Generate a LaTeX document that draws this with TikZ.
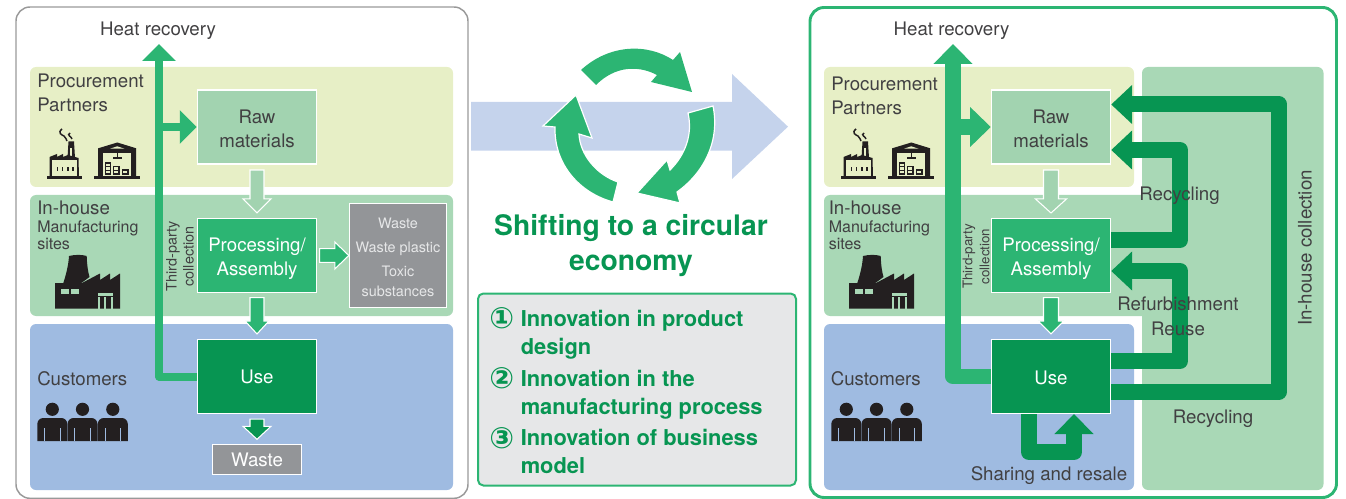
\documentclass[tikz,border=0pt]{standalone}
\usepackage{fontspec}
\setmainfont{TeX Gyre Heros}
\newfontfamily\symfont{DejaVu Sans}
\usetikzlibrary{calc,arrows.meta}
\definecolor{ink}{HTML}{414042}
\definecolor{iconink}{HTML}{231F20}
\definecolor{lime}{HTML}{E7EFC6}
\definecolor{mint}{HTML}{A9D8B6}
\definecolor{sky}{HTML}{9FBBE1}
\definecolor{rawfill}{HTML}{A2D3B0}
\definecolor{midgreen}{HTML}{2CB573}
\definecolor{darkgreen}{HTML}{079552}
\definecolor{wastegray}{HTML}{939598}
\definecolor{pale}{HTML}{E6E7E8}
\definecolor{bigblue}{HTML}{C5D3EC}
\tikzset{
 lab/.style={font=\fontsize{14}{18}\selectfont,text=ink,inner sep=0pt,align=left},
 smalllab/.style={font=\fontsize{12}{12.75}\selectfont,text=ink,inner sep=0pt,align=left},
 tp/.style={font=\fontsize{#1}{12.75}\selectfont,text=ink,inner sep=0pt,align=center,rotate=90},
 stage/.style={minimum width=89.5pt,minimum height=55.5pt,inner sep=0pt,draw=white,line width=.8pt,
   font=\fontsize{14}{18}\selectfont,align=center},
 band/.style={rounded corners=4.5pt},
 thinflow/.style={midgreen,line width=6pt,line join=round},
 thinhead/.style={-{Triangle[length=12.75pt,width=24.5pt]}},
 fatflow/.style={darkgreen,line width=12pt,line join=round},
 fathead/.style={-{Triangle[length=15.75pt,width=28.5pt]}},
 blockarrow/.style={draw=white,line width=.8pt,line join=miter},
 circ/.style={midgreen,draw=white,line width=.9pt,line join=miter},
 greentext/.style={font=\fontsize{16.4}{21}\selectfont\bfseries,text=darkgreen,inner sep=0pt,align=left},
 numeral/.style={font=\fontsize{22}{22}\symfont\bfseries,text=darkgreen,inner sep=0pt},
 pics/smallfactory/.style={code={
   \draw[iconink,line width=1.1pt] (62,129) .. controls (57,133) and (62,135) .. (64,136) .. controls (67,138) and (65,139) .. (67,141);
   \draw[iconink,line width=1.1pt] (70,133) .. controls (66,135) and (72,137) .. (72,139) ;
   \fill[iconink] (68.5,141.5) -- (74,141.5) -- (75,158) -- (67.5,158) -- cycle;
   \fill[lime] (70.2,148) rectangle (72.4,156);
   \fill[iconink] (49.5,157) -- (57,154) -- (57,157) -- (63,154) -- (63,157) -- (68,155) -- (78.5,158) -- (79,177) -- (49.5,177) -- cycle;
   \fill[lime] (52,160.5) rectangle (76.5,176.5);
   \fill[iconink] (46.7,176.5) rectangle (81.7,179.5);
   \foreach \q in {56.5,61.5,67,72}{\fill[iconink] (\q,167) rectangle ++(1.8,4);}
 }},
 pics/warehouse/.style={code={
   \fill[iconink] (117.3,142.5) -- (136.2,148.3) -- (136.2,177) -- (98.2,177) -- (98.2,148.3) -- cycle;
   \fill[lime] (103.2,153.2) rectangle (131.4,177);
   \fill[lime] (110,148.7) -- (117.3,146.3) -- (124.6,148.7) -- cycle;
   \fill[iconink] (94,176.5) rectangle (140.2,179.5);
   \draw[iconink,line width=1pt] (117.3,149) -- (117.3,157) (113,158) -- (122,158);
   \draw[iconink,line width=1.1pt] (105.5,163) rectangle (110.5,174);
   \draw[iconink,line width=.7pt] (105.5,166.6) -- (110.5,166.6) (105.5,170.3) -- (110.5,170.3);
   \draw[iconink,line width=1.1pt] (113.7,166.5) rectangle (119.2,174);
   \draw[iconink,line width=.7pt] (113.7,170.2) -- (119.2,170.2);
   \draw[iconink,line width=1.1pt] (122.3,170) rectangle (127.8,174);
 }},
 pics/plant/.style={code={
   \fill[iconink] (55,284) -- (63,284) .. controls (66,275) and (68.5,265) .. (69,256) .. controls (75,254.5) and (82,254.5) .. (86.7,256) .. controls (87,265) and (88,272) .. (89.5,277) -- (80,284) -- cycle;
   \fill[iconink] (55,283) -- (82,283) -- (100,273.5) -- (100,280) -- (110,273.5) -- (110,280) -- (120,273.5) -- (120,308.5) -- (55,308.5) -- cycle;
   \fill[mint] (61,289) rectangle (69.3,294);
   \fill[mint] (71,289) rectangle (79.3,294);
   \fill[mint] (97.5,292.5) rectangle (112.5,295.5);
   \fill[mint] (98,297) rectangle (99.5,308.5);
   \fill[mint] (103.7,297) rectangle (105.5,308.5);
   \fill[mint] (111.3,297) rectangle (112.5,308.5);
 }},
 pics/people/.style={code={
   \foreach \c in {52.3,82.5,112.8}{
     \fill[iconink] (\c,409.3) circle [radius=6.6];
     \fill[iconink] (\c-15,441) -- (\c-15,424) arc[start angle=180,end angle=90,x radius=6,y radius=-6] -- (\c+9,418) arc[start angle=90,end angle=0,x radius=6,y radius=-6] -- (\c+15,441) -- cycle;
     \draw[sky,line width=.7pt] (\c-7.7,428) -- (\c-7.7,441) (\c+7.7,428) -- (\c+7.7,441);
   }
 }},
}
\newcommand\downblock[6]{%
  \draw[blockarrow,fill=#6] ($(#1)+(-#3,0)$) -- ($(#2)+(-#3,-#5)$) -- ($(#2)+(-#4,-#5)$) -- (#2) -- ($(#2)+(#4,-#5)$) -- ($(#2)+(#3,-#5)$) -- ($(#1)+(#3,0)$) -- cycle;}
\begin{document}
\begin{tikzpicture}[x=.75pt,y=-.75pt]
\useasboundingbox (0,0) rectangle (1346,499);
% ---------- left panel ----------
\draw[draw=black!40,line width=1.1pt,rounded corners=10.5pt] (16,7) rectangle (468,498.3);
\fill[lime,band] (30,67) rectangle (453,187);
\fill[mint,band] (30,195) rectangle (453,316);
\fill[sky,band] (30,324) rectangle (453,490);
\node[lab,anchor=north west] (lproc) at (37,74) {Procurement\\Partners};
\node[lab,anchor=west] (lin) at (37,208) {In-house};
\node[smalllab,anchor=north west] (lman) at (37,221) {Manufacturing\\sites};
\node[lab,anchor=west] (lcus) at (37,379) {Customers};
\node[lab,anchor=center] (lheat) at (158,31) {Heat recovery};
\pic at (0,0) {smallfactory};
\pic at (0,0) {warehouse};
\pic at (0,0) {plant};
\pic at (0,0) {people};
\node[stage,fill=rawfill,text=ink] (lraw) at (257,127) {\rule{0pt}{13.2pt}Raw\\materials};
\node[stage,fill=midgreen,text=white] (lpa) at (257,255.5) {\rule{0pt}{14.8pt}Processing/\\Assembly};
\node[stage,fill=darkgreen,text=white] (luse) at (257,376.5) {Use};
\node[draw=white,line width=.8pt,fill=wastegray,text=white,minimum width=67pt,minimum height=22pt,inner sep=0pt,font=\fontsize{14}{18}\selectfont] (lwaste) at (257,459.5) {Waste};
\node[draw=white,line width=.8pt,fill=wastegray,text=pale,minimum width=73pt,minimum height=78.5pt,inner sep=0pt,font=\fontsize{10.8}{15}\selectfont,align=center] (lwb) at (398,255.5) {\rule{0pt}{10pt}Waste\\[3pt]Waste plastic\\[3pt]Toxic\\substances};
\node[tp=10.8] (ltp) at (180,256.5) {Third-party\\collection};
\coordinate (ltip) at (159,44);
\coordinate (lbr) at (159,127);
\draw[thinflow,thinhead] (luse.west) -- (ltip |- luse.west) -- (ltip);
\draw[thinflow,thinhead] (lbr) -- (lraw.west);
\coordinate (a1) at ($(lraw.south)+(0,5.5)$);
\coordinate (b1) at ($(lpa.north)+(0,-5)$);
\downblock{a1}{b1}{7}{14}{14}{rawfill}
\coordinate (a2) at ($(lpa.south)+(0,4.5)$);
\coordinate (b2) at ($(luse.north)+(0,-5)$);
\downblock{a2}{b2}{7}{12}{13}{midgreen}
\coordinate (a3) at ($(luse.south)+(0,5)$);
\coordinate (b3) at ($(lwaste.north)+(0,-5)$);
\downblock{a3}{b3}{7}{14}{13}{darkgreen}
\coordinate (a4) at ($(lpa.east)+(2.5,0)$);
\coordinate (b4) at ($(lwb.west)+(0,0)$);
\draw[blockarrow,fill=midgreen] ($(a4)+(0,-6.8)$) -- ($(b4)+(-14,-6.8)$) -- ($(b4)+(-14,-13.5)$) -- (b4) -- ($(b4)+(-14,13.5)$) -- ($(b4)+(-14,6.8)$) -- ($(a4)+(0,6.8)$) -- cycle;
% ---------- middle ----------
\fill[bigblue] (471,102) -- (732,102) -- (732,74) -- (788,126.7) -- (732,179) -- (732,150.7) -- (471,150.7) -- cycle;
\fill[circ,draw=none] (581,70) .. controls (610,43.5) and (648,43.5) .. (673,60) -- (680,52) -- (692,92) -- (651,82) -- (657,75) .. controls (638,65) and (615,66) .. (596,85) -- cycle;
\filldraw[circ] (713,106) .. controls (720,140) and (705,172) .. (677,192) -- (680,203) -- (637,193) -- (667,160) -- (670,170) .. controls (685,155) and (693,135) .. (688,113) -- cycle;
\filldraw[circ] (613,202) .. controls (580,193) and (554,165) .. (555,127) -- (543,126) -- (576,95) -- (592,138) -- (579,134) .. controls (580,155) and (597,175) .. (618,182) -- cycle;
\node[font=\fontsize{21.2}{26.2}\selectfont\bfseries,text=darkgreen,inner sep=0pt,align=center] (shift) at (631,246) {Shifting to a circular\\economy};
\node[draw=midgreen,line width=1.5pt,fill=pale,rounded corners=4pt,minimum width=238.5pt,minimum height=144pt,inner sep=0pt] (ibox) at (637,389.5) {};
\node[numeral] (n1) at (501.7,318.5) {①};
\node[numeral] (n2) at (501.7,378) {②};
\node[numeral] (n3) at (501.7,438) {③};
\node[greentext,anchor=west] (t1) at (520.5,334.5) {Innovation in product\\design};
\node[greentext,anchor=west] (t2) at (520.5,394.5) {Innovation in the\\manufacturing process};
\node[greentext,anchor=west] (t3) at (520.5,451) {Innovation of business\\model};
% ---------- right panel ----------
\draw[draw=midgreen,line width=2.2pt,rounded corners=10.5pt] (810,7.5) rectangle (1336.5,497.5);
\fill[mint,band] (824,195) rectangle (1160,316);
\fill[mint,band] (1142,67) rectangle (1323.5,490);
\fill[lime,band] (824,67) rectangle (1134,187);
\fill[sky,band] (824,324) rectangle (1134,490);
\pic at (794,0) {smallfactory};
\pic at (794,0) {warehouse};
\pic at (794,0) {plant};
\pic at (794,0) {people};
\node[lab,anchor=north west] (rproc) at (831,77) {Procurement\\Partners};
\node[lab,anchor=west] (rin) at (828.5,208) {In-house};
\node[smalllab,anchor=north west] (rman) at (828.5,221) {Manufacturing\\sites};
\node[lab,anchor=west] (rcus) at (830.5,379) {Customers};
\node[lab,anchor=center] (rheat) at (951.5,31) {Heat recovery};
\node[stage,fill=rawfill,text=ink] (rraw) at (1051,127) {\rule{0pt}{13.2pt}Raw\\materials};
\node[stage,fill=midgreen,text=white] (rpa) at (1051,255.5) {\rule{0pt}{14.8pt}Processing/\\Assembly};
\node[stage,fill=darkgreen,text=white] (ruse) at (1051,376.5) {\rule{0pt}{11.6pt}Use};
\node[tp=10] (rtp) at (976,256.5) {Third-party\\collection};
\coordinate (rtip) at (953,44);
\coordinate (rbr) at (953,127);
\draw[midgreen,line width=11.7pt,line join=round,-{Triangle[length=15pt,width=28.5pt]}] (ruse.west) -- (rtip |- ruse.west) -- (rtip);
\draw[midgreen,line width=12pt,-{Triangle[length=15.5pt,width=29pt]}] (rbr) -- (rraw.west);
\coordinate (c1) at ($(rraw.south)+(0,5.5)$);
\coordinate (d1) at ($(rpa.north)+(0,-5)$);
\downblock{c1}{d1}{7.5}{15.5}{14}{rawfill}
\coordinate (c2) at ($(rpa.south)+(0,4.5)$);
\coordinate (d2) at ($(ruse.north)+(0,-5)$);
\downblock{c2}{d2}{7.5}{13}{13}{midgreen}
\draw[fatflow,fathead] ($(ruse.east)+(0,15)$) -- (1279,391.5) -- (1279,104.5) -- ($(rraw.east)+(0,-22.5)$);
\draw[fatflow,fathead] (rpa.east |- 0,240) -- (1180,240) -- (1180,150) -- ($(rraw.east)+(0,23)$);
\draw[fatflow,fathead] ($(ruse.east)+(0,-15.5)$) -- (1180,361) -- (1180,271) -- ($(rpa.east)+(0,15.5)$);
\draw[fatflow,-{Triangle[length=15pt,width=28.5pt]}] ($(ruse.south)+(-22,0)$) -- ($(ruse.south)+(-22,38)$) -- ($(ruse.south)+(23,38)$) -- ($(ruse.south)+(23,0)$);
\node[lab,anchor=center] (rrec1) at (1179.5,195.5) {Recycling};
\node[lab,align=center,anchor=center] (rref) at (1178,316.5) {Refurbishment\\[.05em]Reuse};
\node[lab,anchor=center] (rrec2) at (1213,418.5) {Recycling};
\node[lab,anchor=center] (rshare) at (1049,476) {Sharing and resale};
\node[lab,rotate=90,anchor=center] (rcoll) at (1305,248) {In-house collection};
\end{tikzpicture}
\end{document}
